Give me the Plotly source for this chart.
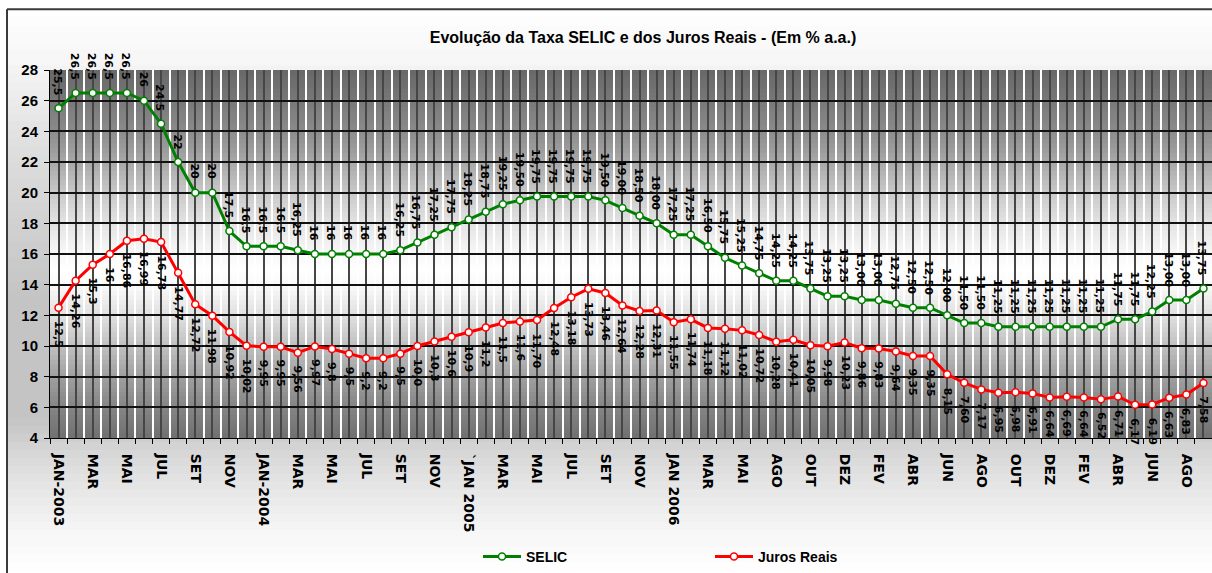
import plotly.graph_objects as go

# ---------------- data ----------------
chart_title = "Evolução da Taxa SELIC e dos Juros Reais - (Em % a.a.)"

tick_labels = ["JAN-2003", "MAR", "MAI", "JUL", "SET", "NOV",
               "JAN-2004", "MAR", "MAI", "JUL", "SET", "NOV",
               "`JAN 2005", "MAR", "MAI", "JUL", "SET", "NOV",
               "JAN 2006", "MAR", "MAI", "AGO", "OUT", "DEZ",
               "FEV", "ABR", "JUN", "AGO", "OUT", "DEZ",
               "FEV", "ABR", "JUN", "AGO"]

selic_txt = ["25,5", "26,5", "26,5", "26,5", "26,5", "26", "24,5", "22", "20", "20",
             "17,5", "16,5", "16,5", "16,5", "16,25", "16", "16", "16", "16", "16",
             "16,25", "16,75", "17,25", "17,75", "18,25", "18,75", "19,25", "19,50", "19,75", "19,75",
             "19,75", "19,75", "19,50", "19,00", "18,50", "18,00", "17,25", "17,25", "16,50", "15,75",
             "15,25", "14,75", "14,25", "14,25", "13,75", "13,25", "13,25", "13,00", "13,00", "12,75",
             "12,50", "12,50", "12,00", "11,50", "11,50", "11,25", "11,25", "11,25", "11,25", "11,25",
             "11,25", "11,25", "11,75", "11,75", "12,25", "13,00", "13,00", "13,75"]

juros_txt = ["12,5", "14,26", "15,3", "16", "16,86", "16,99", "16,78", "14,77", "12,72", "11,98",
             "10,92", "10,02", "9,95", "9,95", "9,56", "9,97", "9,8", "9,5", "9,2", "9,2",
             "9,5", "10,0", "10,3", "10,6", "10,9", "11,2", "11,5", "11,6", "11,70", "12,48",
             "13,18", "13,73", "13,46", "12,64", "12,28", "12,31", "11,55", "11,74", "11,18", "11,12",
             "11,02", "10,72", "10,28", "10,41", "10,05", "9,98", "10,23", "9,86", "9,83", "9,64",
             "9,35", "9,35", "8,15", "7,60", "7,17", "6,95", "6,98", "6,91", "6,64", "6,69",
             "6,64", "6,52", "6,71", "6,17", "6,19", "6,63", "6,83", "7,58"]

selic = [float(s.replace(",", ".")) for s in selic_txt]
juros = [float(s.replace(",", ".")) for s in juros_txt]
idx = list(range(len(selic)))

# ---------------- geometry helpers ----------------
W, H = 1212, 573
ML, MR, MT, MB = 50, 0, 70, 133
PW, PH = W - ML - MR, H - MT - MB


def px_x(p):
    return (p - ML) / PW


def px_y(p):
    return (H - MB - p) / PH


def interp_gray(stops, t):
    for (t0, g0), (t1, g1) in zip(stops, stops[1:]):
        if t0 <= t <= t1:
            g = g0 + (g1 - g0) * (t - t0) / (t1 - t0)
            g = int(round(g))
            return f"rgb({g},{g},{g})"
    g = stops[-1][1]
    return f"rgb({g},{g},{g})"


shapes = []

# chart-area background: vertical gray gradient (pixel rows)
outer_stops = [(9, 255), (60, 246), (150, 222), (300, 196), (420, 196),
               (470, 222), (530, 245), (573, 255)]
n_out = 70
for k in range(n_out):
    y0 = 9 + (573 - 9) * k / n_out
    y1 = 9 + (573 - 9) * (k + 1) / n_out
    shapes.append(dict(type="rect", xref="paper", yref="paper", layer="below",
                       x0=px_x(8), x1=px_x(W), y0=px_y(y0), y1=px_y(y1 + 0.6),
                       fillcolor=interp_gray(outer_stops, (y0 + y1) / 2),
                       line=dict(width=0)))

# plot-area background: dark at top and bottom, white band in the middle
plot_stops = [(0.0, 112), (0.083, 133), (0.167, 160), (0.25, 192), (0.333, 224),
              (0.417, 250), (0.458, 255), (0.5, 248), (0.583, 228), (0.667, 200),
              (0.75, 168), (0.833, 140), (0.917, 120), (1.0, 104)]
n_in = 80
for k in range(n_in):
    f0 = k / n_in
    f1 = (k + 1) / n_in
    shapes.append(dict(type="rect", xref="x domain", yref="y domain", layer="below",
                       x0=0, x1=1, y0=f0, y1=min(1.0, f1 + 0.004),
                       fillcolor=interp_gray(plot_stops, (f0 + f1) / 2),
                       line=dict(width=0)))

# frame of the chart area (top and left edges)
shapes.append(dict(type="line", xref="paper", yref="paper",
                   x0=px_x(7), x1=px_x(W + 5), y0=px_y(9), y1=px_y(9),
                   line=dict(color="#3a3a3a", width=2)))
shapes.append(dict(type="line", xref="paper", yref="paper",
                   x0=px_x(7), x1=px_x(7), y0=px_y(9), y1=px_y(H + 5),
                   line=dict(color="#3a3a3a", width=2)))

# ---------------- traces ----------------
fig = go.Figure()
fig.add_trace(go.Scatter(
    x=idx, y=selic, name="SELIC", mode="lines+markers",
    line=dict(color="#008000", width=3),
    marker=dict(symbol="circle", size=7, color="white",
                line=dict(color="#008000", width=1.5)),
    cliponaxis=False))
fig.add_trace(go.Scatter(
    x=idx, y=juros, name="Juros Reais", mode="lines+markers",
    line=dict(color="#ff0000", width=3),
    marker=dict(symbol="circle", size=7, color="white",
                line=dict(color="#ff0000", width=1.5)),
    cliponaxis=False))

# rotated value labels
annotations = []
lab_font = dict(family="DejaVu Sans", size=11, color="black", weight="bold")
for i, (v, t) in enumerate(zip(selic, selic_txt)):
    annotations.append(dict(x=i, y=v, xref="x", yref="y", text=t,
                            showarrow=False, textangle=90, xanchor="center",
                            yanchor="bottom", yshift=11, xshift=-1, font=lab_font))
for i, (v, t) in enumerate(zip(juros, juros_txt)):
    annotations.append(dict(x=i, y=v, xref="x", yref="y", text=t,
                            showarrow=False, textangle=90, xanchor="center",
                            yanchor="top", yshift=-11, font=lab_font))

tickvals = idx
ticktext = [tick_labels[i // 2] if i % 2 == 0 else "" for i in idx]

fig.update_layout(
    width=W, height=H,
    margin=dict(l=ML, r=MR, t=MT, b=MB, pad=0),
    paper_bgcolor="white",
    plot_bgcolor="rgba(0,0,0,0)",
    title=dict(text=chart_title, x=643 / W, xref="container",
               xanchor="center", y=1 - 37 / H, yref="container", yanchor="middle",
               font=dict(family="Liberation Sans", size=16, color="black", weight="bold")),
    showlegend=True,
    legend=dict(orientation="h", x=px_x(478), xanchor="left",
                y=px_y(560), yanchor="middle",
                font=dict(family="Liberation Sans", size=14, color="black", weight="bold"),
                bgcolor="rgba(0,0,0,0)", itemwidth=38,
                entrywidth=179, entrywidthmode="pixels"),
    shapes=shapes,
    annotations=annotations,
    xaxis=dict(
        range=[-0.5, len(idx) - 0.5],
        tickmode="array", tickvals=tickvals, ticktext=ticktext,
        tickangle=90, ticks="", ticklabelstandoff=12,
        tickfont=dict(family="DejaVu Sans", size=14, color="black", weight="bold"),
        showgrid=True, gridcolor="#464646", gridwidth=2,
        showline=True, linecolor="black", linewidth=1,
        zeroline=False,
        minor=dict(tickmode="array", tickvals=[i + 0.5 for i in idx[:-1]] + [-0.5],
                   showgrid=True, gridcolor="white", gridwidth=1.5,
                   ticks="outside", ticklen=5, tickcolor="black", tickwidth=1),
    ),
    yaxis=dict(
        range=[4, 28], tickmode="linear", tick0=4, dtick=2,
        ticks="outside", ticklen=5, tickcolor="black",
        tickfont=dict(family="Liberation Sans", size=15, color="black", weight="bold"),
        showgrid=True, gridcolor="#111111", gridwidth=1.5,
        showline=True, linecolor="black", linewidth=1,
        zeroline=False, ticklabelstandoff=3,
    ),
)

fig.write_html("out.html")
